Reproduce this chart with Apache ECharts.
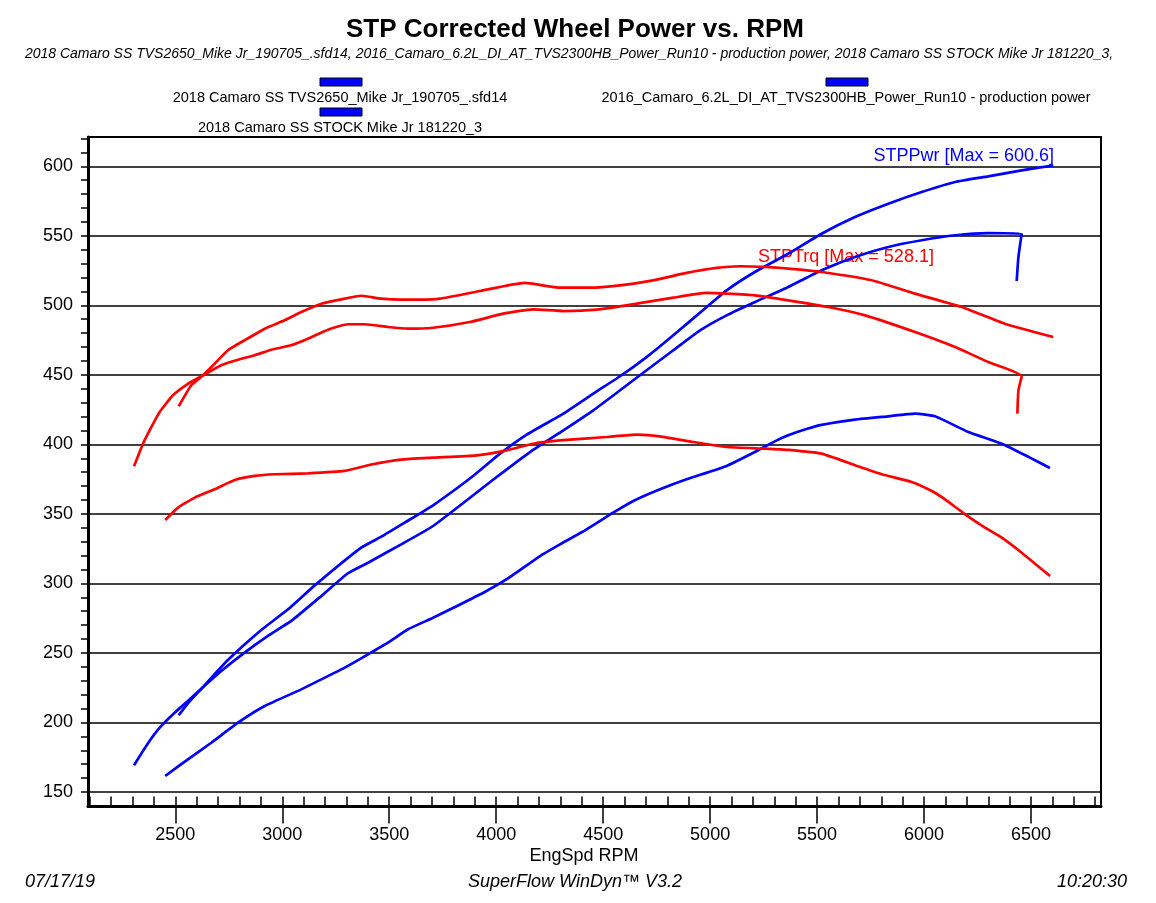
<!DOCTYPE html>
<html>
<head>
<meta charset="utf-8">
<script src="https://cdn.jsdelivr.net/npm/echarts@6/dist/echarts.min.js"></script>
<style>
html,body{margin:0;padding:0;background:#fff;}
#chart{width:1156px;height:903px;}
</style>
</head>
<body>
<div id="chart"></div>
<script>
// ---- Data ----
// Power, run 1 (starts 2307 rpm, ends with hook near 6450)
const pwrA_rpm = [2307,2364,2427,2497,2559,2622,2715,2824,2933,3042,3183,3307,3401,3556,3705,4002,4158,4314,4454,4579,4703,4828,4953,5077,5210,5365,5521,5677,5833,5989,6145,6300,6456,6441,6433];
const pwrA_hp  = [169.2,183.1,196.2,207.0,215.4,224.3,237.0,250.2,262.2,273.0,291.0,307.3,314.9,328.1,341.3,376.5,394.5,410.1,424.5,438.9,453.3,467.7,482.0,492.8,502.4,513.2,525.2,534.8,542.0,546.8,550.4,552.0,551.5,534.8,517.5];
// Power, run 2 (starts 2516 rpm, max 600.6)
const pwrB_rpm = [2516,2559,2622,2746,2902,3027,3152,3369,3463,3572,3705,3886,4018,4143,4314,4454,4579,4703,4828,4984,5077,5209,5365,5521,5677,5833,5989,6145,6300,6456,6604];
const pwrB_hp  = [205.2,213.8,224.3,244.9,266.5,281.4,298.6,325.7,333.6,343.7,356.2,376.5,393.3,407.0,422.1,436.5,449.0,462.8,478.5,498.8,510.8,524.0,537.1,551.5,563.5,573.1,581.5,588.7,592.8,597.1,600.6];
// Power, run 3 (lowest)
const pwrC_rpm = [2453,2559,2668,2793,2918,3089,3183,3292,3401,3494,3588,3705,3800,3940,4049,4205,4298,4423,4547,4641,4766,4890,5077,5209,5300,5365,5450,5521,5677,5833,5958,6051,6207,6363,6488,6588];
const pwrC_hp  = [161.5,173.5,185.4,199.8,211.8,223.8,231.0,239.4,249.0,257.4,267.0,275.3,282.5,293.3,303.0,319.7,328.1,338.9,350.9,359.3,367.7,374.9,384.5,394.5,402.0,406.5,411.0,414.0,417.8,420.2,422.1,420.2,408.9,400.5,391.0,383.0];
// Torque, run 1
const trqA_rpm = [2307,2349,2380,2427,2489,2559,2630,2715,2793,2871,2949,3042,3120,3214,3307,3385,3494,3588,3705,3877,4033,4173,4314,4470,4657,4828,4984,5077,5209,5365,5552,5724,5958,6145,6300,6456,6441,6436];
const trqA_ft  = [384.2,400.5,410.1,423.3,435.3,443.6,449.7,456.9,460.9,464.1,468.1,471.3,476.0,482.5,486.4,486.4,484.4,483.2,483.9,488.0,494.0,497.1,495.9,496.9,501.2,505.5,508.9,508.4,507.2,503.6,498.8,492.8,480.8,470.0,459.2,449.0,438.9,422.1];
// Torque, run 2 (max 528.1)
const trqB_rpm = [2516,2575,2630,2684,2746,2824,2918,3011,3089,3183,3276,3369,3463,3556,3650,3737,3924,4134,4298,4438,4579,4734,4890,5030,5140,5256,5365,5521,5755,5958,6176,6377,6604];
const trqB_ft  = [427.4,442.5,449.7,458.0,467.7,474.9,483.2,489.2,495.2,501.2,504.3,506.9,504.8,504.1,504.1,504.8,510.3,516.1,512.7,512.7,514.4,518.0,523.3,526.9,528.1,527.6,526.4,524.0,518.0,508.4,498.8,486.8,477.2];
// Torque, run 3
const trqC_rpm = [2453,2513,2591,2684,2778,2871,2965,3120,3292,3417,3556,3705,3909,4049,4189,4345,4516,4657,4766,4921,5077,5256,5365,5521,5677,5802,5942,6036,6098,6192,6285,6363,6456,6589];
const trqC_ft  = [345.6,354.5,361.7,367.7,374.4,377.3,378.5,379.2,380.9,385.5,389.0,390.4,392.1,395.7,401.0,403.4,405.3,407.0,405.8,401.7,398.1,396.9,396.0,393.3,385.0,378.5,373.0,366.5,360.5,349.7,340.1,332.9,322.1,305.3];

// Axis ticks / labels
const xMajor = [2500,3000,3500,4000,4500,5000,5500,6000,6500];
const xMinor = [2100,2200,2300,2400,2500,2600,2700,2800,2900,3000,3100,3200,3300,3400,3500,3600,3700,3800,3900,4000,4100,4200,4300,4400,4500,4600,4700,4800,4900,5000,5100,5200,5300,5400,5500,5600,5700,5800,5900,6000,6100,6200,6300,6400,6500,6600,6700,6800];
const yMajor = [150,200,250,300,350,400,450,500,550,600];
const yMinor = [150,160,170,180,190,200,210,220,230,240,250,260,270,280,290,300,310,320,330,340,350,360,370,380,390,400,410,420,430,440,450,460,470,480,490,500,510,520,530,540,550,560,570,580,590,600,610,620];

const legendNames = [
  '2018 Camaro SS TVS2650_Mike Jr_190705_.sfd14',
  '2016_Camaro_6.2L_DI_AT_TVS2300HB_Power_Run10 - production power',
  '2018 Camaro SS STOCK Mike Jr 181220_3'
];
const titleText = 'STP Corrected Wheel Power vs. RPM';
const subtitleText = '2018 Camaro SS TVS2650_Mike Jr_190705_.sfd14, 2016_Camaro_6.2L_DI_AT_TVS2300HB_Power_Run10 - production power, 2018 Camaro SS STOCK Mike Jr 181220_3,';

// ---- Chart ----
const FONT = '"Liberation Sans", Arial, sans-serif';
const BLUE = '#0000FF', RED = '#FF0000';
const X_MIN = 2092, X_MAX = 6827, Y_MIN = 139.55, Y_MAX = 621.07;

function pairs(xs, ys){ return xs.map((x,i)=>[x, ys[i]]); }
function lineSeries(xs, ys, color){
  return {type:'line', xAxisIndex:0, yAxisIndex:0, data: pairs(xs, ys), showSymbol:false, symbol:'none',
    smooth:0.15, lineStyle:{color:color, width:2.7}, itemStyle:{color:color}, z:3, silent:true};
}

const chart = echarts.init(document.getElementById('chart'), null, {renderer:'canvas'});
const txt = (x,y,text,o)=>Object.assign({type:'text', x:x, y:y, style:Object.assign({text:text, fill:'#000', font:'18px '+FONT, textAlign:'center', textVerticalAlign:'middle'}, o||{})});
const rect = (x,y)=>({type:'rect', shape:{x:x, y:y, width:42, height:8}, style:{fill:BLUE, stroke:'#000', lineWidth:1}});

chart.setOption({
  animation:false,
  backgroundColor:'#fff',
  grid:{left:88, top:137, width:1013, height:669.5, show:true, borderColor:'#000', borderWidth:2, backgroundColor:'transparent'},
  xAxis:[
    {type:'value', min:X_MIN, max:X_MAX, position:'bottom',
      axisLine:{show:true, onZero:false, lineStyle:{color:'#000', width:3}},
      axisTick:{show:true, customValues:xMajor, inside:false, length:17, lineStyle:{color:'#000', width:1.5}},
      axisLabel:{show:true, customValues:xMajor, margin:20, color:'#000', fontSize:18, fontFamily:FONT, formatter:(v)=>String(Math.round(v))},
      splitLine:{show:false}},
    {type:'value', min:X_MIN, max:X_MAX, position:'bottom',
      axisLine:{show:false, onZero:false},
      axisTick:{show:true, customValues:xMinor, inside:true, length:10, lineStyle:{color:'#000', width:1.5}},
      axisLabel:{show:false}, splitLine:{show:false}}
  ],
  yAxis:[
    {type:'value', min:Y_MIN, max:Y_MAX, position:'left',
      axisLine:{show:true, onZero:false, lineStyle:{color:'#000', width:3}},
      axisTick:{show:true, customValues:yMajor, inside:false, length:7, lineStyle:{color:'#000', width:1.5}},
      axisLabel:{show:true, customValues:yMajor, margin:15, color:'#000', fontSize:18, fontFamily:FONT, formatter:(v)=>String(Math.round(v))},
      splitLine:{show:true, lineStyle:{color:'#000', width:1.5}}},
    {type:'value', min:Y_MIN, max:Y_MAX, position:'left',
      axisLine:{show:false, onZero:false},
      axisTick:{show:true, customValues:yMinor, inside:false, length:7, lineStyle:{color:'#000', width:1.5}},
      axisLabel:{show:false}, splitLine:{show:false}}
  ],
  series:[
    lineSeries(pwrA_rpm, pwrA_hp, BLUE),
    lineSeries(pwrB_rpm, pwrB_hp, BLUE),
    lineSeries(pwrC_rpm, pwrC_hp, BLUE),
    lineSeries(trqA_rpm, trqA_ft, RED),
    lineSeries(trqB_rpm, trqB_ft, RED),
    lineSeries(trqC_rpm, trqC_ft, RED)
  ],
  graphic:[
    txt(575, 30, titleText, {font:'bold 26px '+FONT}),
    txt(569, 54, subtitleText, {font:'italic 14px '+FONT}),
    rect(320, 78), rect(826, 78), rect(320, 108),
    txt(340, 98, legendNames[0], {font:'14.5px '+FONT}),
    txt(846, 98, legendNames[1], {font:'14.5px '+FONT}),
    txt(340, 128, legendNames[2], {font:'14.5px '+FONT}),
    txt(1054, 156, 'STPPwr [Max = 600.6]', {font:'18px '+FONT, fill:BLUE, textAlign:'right'}),
    txt(758, 257, 'STPTrq [Max = 528.1]', {font:'18px '+FONT, fill:RED, textAlign:'left'}),
    txt(584, 856, 'EngSpd RPM', {font:'18px '+FONT}),
    txt(25, 882, '07/17/19', {font:'italic 18px '+FONT, textAlign:'left'}),
    txt(575, 882, 'SuperFlow WinDyn\u2122 V3.2', {font:'italic 18px '+FONT}),
    txt(1127, 882, '10:20:30', {font:'italic 18px '+FONT, textAlign:'right'})
  ]
});
</script>
</body>
</html>
